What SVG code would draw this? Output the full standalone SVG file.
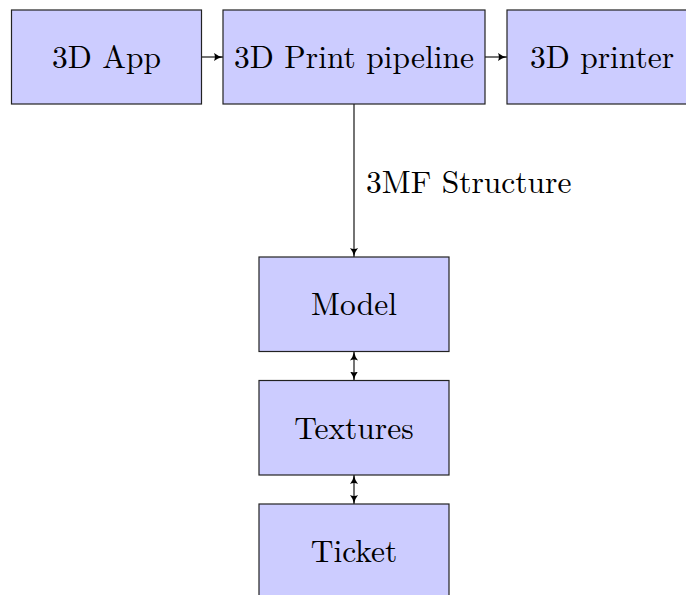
<svg xmlns="http://www.w3.org/2000/svg" width="686" height="595" viewBox="0 0 686 595">
  <style>
    .box { fill: #ccccff; stroke: #222222; stroke-width: 1.2; }
    .edge { stroke: #000000; stroke-width: 1.1; fill: none; }
  </style>
  <defs>
    <marker id="ah" viewBox="0 0 10 10" refX="10" refY="5" markerWidth="9" markerHeight="9" markerUnits="userSpaceOnUse" orient="auto-start-reverse">
      <path d="M0,0.5 Q4,4 10,5 Q4,6 0,9.5 Q2,5 0,0.5 Z" fill="#000000"/>
    </marker>
  </defs>
  <rect width="686" height="595" fill="#ffffff"/>
  <g id="connectors">
    <line class="edge" x1="201.5" y1="57" x2="223" y2="57" marker-end="url(#ah)"/>
    <line class="edge" x1="485" y1="57" x2="507" y2="57" marker-end="url(#ah)"/>
    <line class="edge" x1="354" y1="104" x2="354" y2="257" marker-end="url(#ah)"/>
    <text x="366" y="193" font-family="'Latin Modern Roman', 'Liberation Serif', serif" font-size="31.5" fill="#000000">3MF Structure</text>
    <line class="edge" x1="354" y1="351.5" x2="354" y2="380.5" marker-start="url(#ah)" marker-end="url(#ah)"/>
    <line class="edge" x1="354" y1="475" x2="354" y2="504" marker-start="url(#ah)" marker-end="url(#ah)"/>
  </g>
  <g id="app">
    <rect class="box" x="11.5" y="10" width="190" height="94"/>
    <text x="106.5" y="68" font-family="'Latin Modern Roman', 'Liberation Serif', serif" font-size="31.5" text-anchor="middle" fill="#000000">3D App</text>
  </g>
  <g id="pipeline">
    <rect class="box" x="223" y="10" width="262" height="94"/>
    <text x="354" y="68" font-family="'Latin Modern Roman', 'Liberation Serif', serif" font-size="31.5" text-anchor="middle" fill="#000000">3D Print pipeline</text>
  </g>
  <g id="printer">
    <rect class="box" x="507" y="10" width="190" height="94"/>
    <text x="602" y="68" font-family="'Latin Modern Roman', 'Liberation Serif', serif" font-size="31.5" text-anchor="middle" fill="#000000">3D printer</text>
  </g>
  <g id="model">
    <rect class="box" x="259" y="257" width="190" height="94.5"/>
    <text x="354" y="315" font-family="'Latin Modern Roman', 'Liberation Serif', serif" font-size="31.5" text-anchor="middle" fill="#000000">Model</text>
  </g>
  <g id="textures">
    <rect class="box" x="259" y="380.5" width="190" height="94.5"/>
    <text x="354" y="439" font-family="'Latin Modern Roman', 'Liberation Serif', serif" font-size="31.5" text-anchor="middle" fill="#000000">Textures</text>
  </g>
  <g id="ticket">
    <rect class="box" x="259" y="504" width="190" height="94.5"/>
    <text x="354" y="562" font-family="'Latin Modern Roman', 'Liberation Serif', serif" font-size="31.5" text-anchor="middle" fill="#000000">Ticket</text>
  </g>
</svg>
